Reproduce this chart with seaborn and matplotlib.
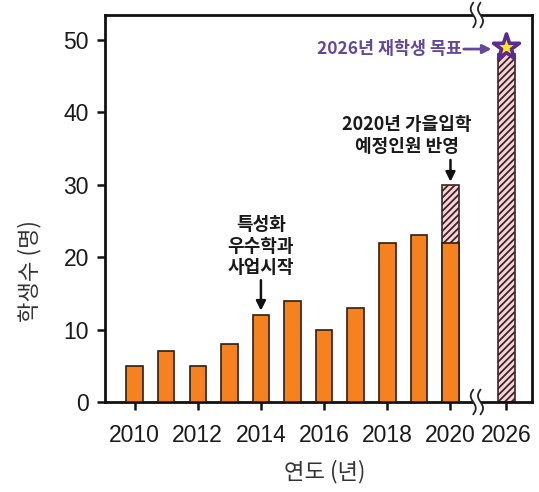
import numpy as np
import pandas as pd
import matplotlib
matplotlib.use('Agg')
import matplotlib.pyplot as plt
import seaborn as sns
from matplotlib.transforms import blended_transform_factory

# ---- data ----
years = [2010, 2011, 2012, 2013, 2014, 2015, 2016, 2017, 2018, 2019, 2020]
students = [5, 7, 5, 8, 12, 14, 10, 13, 22, 23, 22]
plan_years = [2020, 2026]
plan_students = [30, 48]
goal_year = 2026
goal_value = 49
tick_years = [2010, 2012, 2014, 2016, 2018, 2020, 2026]
y_ticks = [0, 10, 20, 30, 40, 50]

BREAK_POS = 11.77  # axis position of 2026 after the axis break


def to_pos(y):
    return y - 2010 if y <= 2020 else BREAK_POS


sns.set_theme(style='ticks')
plt.rcParams['font.family'] = ['Liberation Sans', 'DejaVu Sans']
plt.rcParams['hatch.linewidth'] = 1.3
kfont = ['Noto Sans CJK KR', 'DejaVu Sans']

fig = plt.figure(figsize=(5.39, 4.92), dpi=100)
ax = fig.add_axes([0.1957, 0.1829, 0.7913, 0.7866])

df_main = pd.DataFrame({'pos': [to_pos(y) for y in years], 'n': students})
df_plan = pd.DataFrame({'pos': [to_pos(y) for y in plan_years], 'n': plan_students})

bw = 0.52
plan_spacing = df_plan['pos'].diff().min()
sns.barplot(data=df_plan, x='pos', y='n', native_scale=True, width=bw / plan_spacing,
            color='#f8d3d8', saturation=1, edgecolor='#3a2626', linewidth=1.2,
            hatch='/////', errorbar=None, ax=ax, zorder=2)
sns.barplot(data=df_main, x='pos', y='n', native_scale=True, width=bw,
            color='#f5821f', saturation=1, edgecolor='#2e1e12', linewidth=1.2,
            errorbar=None, ax=ax, zorder=3)

sns.scatterplot(x=[to_pos(goal_year)], y=[goal_value], marker='*', s=380,
                color='#ffe81a', edgecolor='#5b2c8f', linewidth=2.6, ax=ax,
                zorder=6, clip_on=False)

ax.set_xlim(-0.92, 12.58)
ax.set_ylim(0, 53.4)
ax.set_xticks([to_pos(y) for y in tick_years])
ax.set_xticklabels([str(y) for y in tick_years])
ax.set_yticks(y_ticks)
ax.tick_params(direction='out', length=6, width=1.8, labelsize=16.5,
               labelcolor='#1a1a1a', color='#111', bottom=True, left=True)
ax.tick_params(axis='x', pad=10)
ax.tick_params(axis='y', pad=6)
for s in ax.spines.values():
    s.set_visible(True)
    s.set_linewidth(2)
    s.set_color('#111')

ax.set_xlabel('연도 (년)', family=kfont, fontsize=16, color='#333')
ax.set_ylabel('학생수 (명)', family=kfont, fontsize=16, color='#333')
ax.xaxis.set_label_coords(0.515, -0.15)
ax.yaxis.set_label_coords(-0.15, 0.338)

# annotations
arrow_k = dict(arrowstyle='-|>', lw=1.8, color='#111', mutation_scale=14,
               shrinkA=0, shrinkB=0)
ax.text(4, 21.5, '특성화\n우수학과\n사업시작', ha='center', va='center',
        fontsize=13, fontweight='bold', family=kfont, linespacing=1.15,
        color='#1a1a1a')
ax.annotate('', xy=(4, 12.6), xytext=(4, 16.8), arrowprops=arrow_k)
ax.text(8.62, 36.8, '2020년 가을입학\n예정인원 반영', ha='center', va='center',
        fontsize=13, fontweight='bold', family=kfont, linespacing=1.2,
        color='#1a1a1a')
ax.annotate('', xy=(10, 30.4), xytext=(10, 33.4), arrowprops=arrow_k)

purple = '#65479a'
ax.text(10.36, 48.7, '2026년 재학생 목표', ha='right', va='center',
        fontsize=12.5, fontweight='bold', family=kfont, color=purple)
ax.annotate('', xy=(11.3, 48.7), xytext=(10.42, 48.7),
            arrowprops=dict(arrowstyle='-|>', lw=2, color=purple,
                            mutation_scale=13, shrinkA=0, shrinkB=0))

# axis break marks
trans = blended_transform_factory(ax.transData, ax.transAxes)
t = np.linspace(-1, 1, 60)
for y0 in (0.0, 1.0):
    xa = 10.72 + 0.08 * np.sin(np.pi * t)
    xb = 10.95 + 0.08 * np.sin(np.pi * t)
    ys = y0 - 0.032 * t
    ax.fill(np.concatenate([xa, xb[::-1]]), np.concatenate([ys, ys[::-1]]),
            color='white', transform=trans, clip_on=False, zorder=10, lw=0)
    ax.plot(xa, ys, color='#222', lw=1.3, transform=trans, clip_on=False, zorder=11)
    ax.plot(xb, ys, color='#222', lw=1.3, transform=trans, clip_on=False, zorder=11)

fig.savefig('out.png', dpi=100)
